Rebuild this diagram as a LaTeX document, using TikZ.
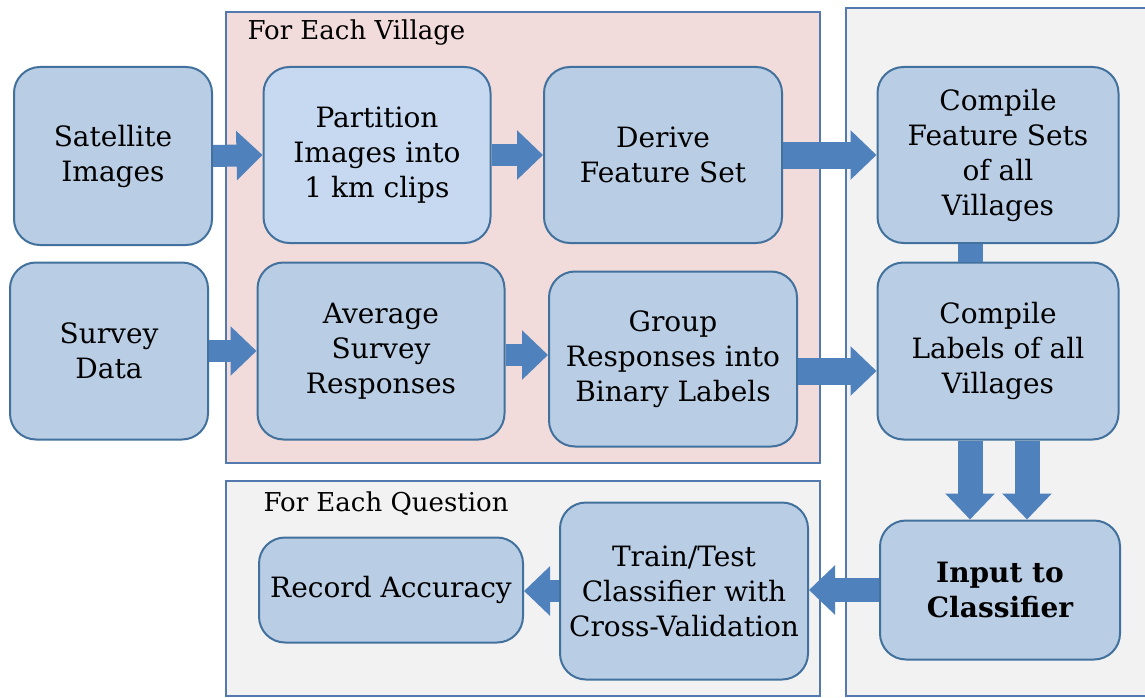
\documentclass[tikz,border=0pt]{standalone}
\usepackage{fontspec}
\setmainfont{DejaVu Serif}
\usepackage{tikz}
\usetikzlibrary{arrows.meta}

\definecolor{boxfill}{HTML}{B9CDE5}
\definecolor{partfill}{HTML}{C6D9F1}
\definecolor{boxline}{HTML}{41719C}
\definecolor{arrowblue}{HTML}{4F81BD}
\definecolor{villagefill}{HTML}{F2DCDB}
\definecolor{greyfill}{HTML}{F2F2F2}
\definecolor{panelline}{HTML}{5479AE}

\begin{document}
\begin{tikzpicture}[x=1pt, y=-1pt,
        stepbox/.style={draw=boxline, fill=boxfill, line width=2pt, rounded corners=26pt,
            align=center, inner sep=0pt, font=\fontsize{28}{35}\selectfont},
        panel/.style={draw=panelline, line width=2.5pt},
        flow/.style={arrowblue, line width=#1, -{Triangle[width=48pt, length=26pt]}},
        flow/.default=22pt]
            \useasboundingbox (0,0) rectangle (1145,698);

            % the two groups and the right column
            \draw[panel, fill=villagefill] (226,12) rectangle (820,463);
            \draw[panel, fill=greyfill] (226,481) rectangle (820,696);
            \draw[panel, fill=greyfill] (1150,8) -- (846,8) -- (846,696) -- (1150,696);
            \node[anchor=west, font=\fontsize{26}{30}\selectfont] (village) at (244,33) {For Each Village};
            \node[anchor=west, font=\fontsize{26}{30}\selectfont] (question) at (260,504) {For Each Question};

            \node[stepbox, minimum width=198pt, minimum height=178pt] (sat) at (113,156) {Satellite\\Images};
            \node[stepbox, minimum width=198pt, minimum height=177pt] (survey) at (109,351) {Survey\\Data};
            \node[stepbox, fill=partfill, minimum width=227pt, minimum height=176pt] (part) at (377,155) {Partition\\Images into\\1 km clips};
            \node[stepbox, minimum width=238pt, minimum height=176pt] (derive) at (663,155) {Derive\\Feature Set};
            \node[stepbox, minimum width=247pt, minimum height=177pt] (avg) at (381,351) {Average\\Survey\\Responses};
            \node[stepbox, minimum width=248pt, minimum height=175pt] (group) at (673,359) {Group\\Responses into\\Binary Labels};
            \node[stepbox, minimum width=241pt, minimum height=176pt] (compfeat) at (998,155) {Compile\\Feature Sets\\of all\\Villages};
            \node[stepbox, minimum width=241pt, minimum height=177pt] (complab) at (998,351) {Compile\\Labels of all\\Villages};
            \node[stepbox, minimum width=240pt, minimum height=139pt, font=\fontsize{28}{35}\selectfont\bfseries] (input) at (1000,590) {Input to\\Classifier};
            \node[stepbox, minimum width=248pt, minimum height=177pt] (train) at (684,591) {Train/Test\\Classifier with\\Cross-Validation};
            \node[stepbox, minimum width=264pt, minimum height=105pt] (record) at (391,590) {Record Accuracy};

            \draw[flow] (sat.east) -- (part.west);
            \draw[flow] (part.east) -- (derive.west);
            \draw[flow=27pt] (derive.east) -- (compfeat.west);
            \draw[flow] (survey.east) -- (avg.west);
            \draw[flow] ([yshift=-4pt]avg.east) -- ([yshift=-4pt]avg.east -| group.west);
            \draw[flow=27pt] ([yshift=-12pt]group.east) -- ([yshift=-12pt]group.east -| complab.west);
            \draw[arrowblue, line width=25pt] ([xshift=-28pt]compfeat.south) -- ([xshift=-28pt]complab.north);
            \draw[flow=25pt] ([xshift=-28pt]complab.south) -- ([xshift=-28pt]complab.south |- input.north);
            \draw[flow=25pt] ([xshift=29pt]complab.south) -- ([xshift=29pt]complab.south |- input.north);
            \draw[flow=24pt] (input.west) -- (input.west -| train.east);
            \draw[flow] (train.west) -- (train.west -| record.east);
        \end{tikzpicture}
\end{document}
